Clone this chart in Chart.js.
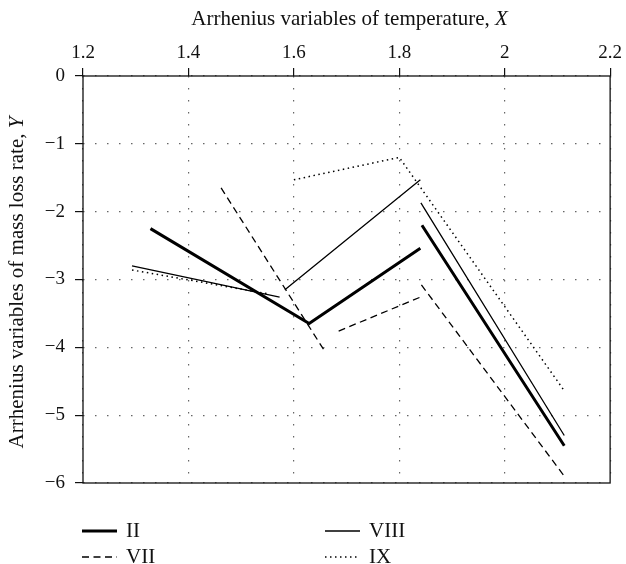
<!DOCTYPE html>
<html>
<head>
<meta charset="utf-8">
<script src="https://cdn.jsdelivr.net/npm/chart.js@4.4.0/dist/chart.umd.min.js"></script>
<style>
  body { margin: 0; background: #fff; }
</style>
</head>
<body>
<canvas id="grafico" width="626" height="564"></canvas>
<script>
// 1. Datos (null en Y = la línea se corta)
const ticksX = [1.2, 1.4, 1.6, 1.8, 2, 2.2];
const ticksY = [0, -1, -2, -3, -4, -5, -6];
const nombresSeries = ['II', 'VIII', 'VII', 'IX'];

const xII = [1.328, 1.629, 1.840, 1.841, 1.843, 2.113];
const yII = [-2.25, -3.65, -2.54, null, -2.20, -5.45];

const xVIII = [1.293, 1.573, 1.578, 1.583, 1.840, 1.840, 1.841, 2.113];
const yVIII = [-2.80, -3.26, null, -3.15, -1.53, null, -1.87, -5.30];

const xVII = [1.462, 1.658, 1.670, 1.685, 1.840, 1.841, 1.842, 2.116];
const yVII = [-1.65, -4.05, null, -3.76, -3.26, null, -3.08, -5.93];

const xIX = [1.293, 1.550, 1.575, 1.600, 1.800, 2.113];
const yIX = [-2.86, -3.21, null, -1.53, -1.20, -4.64];

const tituloX = 'Arrhenius variables of temperature, ';
const tituloY = 'Arrhenius variables of mass loss rate, ';

const fuente = '"Liberation Serif", "Times New Roman", serif';

// 2. Junta los arreglos x e y en puntos para Chart.js
function armarPuntos(xs, ys) {
    return xs.map((x, i) => ({ x: x, y: ys[i] }));
}

function serie(nombre, xs, ys, grosor, trazo) {
    return {
        label: nombre,
        data: armarPuntos(xs, ys),
        borderColor: '#000',
        borderWidth: grosor,
        borderDash: trazo,
        pointRadius: 0,
        fill: false,
        tension: 0,
        spanGaps: false
    };
}

// Texto normal + letra en cursiva (la variable)
function textoConVariable(ctx, texto, variable, x, y) {
    ctx.font = '21px ' + fuente;
    const a = ctx.measureText(texto).width;
    ctx.font = 'italic 21px ' + fuente;
    const b = ctx.measureText(variable).width;
    const inicio = x - (a + b) / 2;
    ctx.textAlign = 'left';
    ctx.textBaseline = 'middle';
    ctx.font = '21px ' + fuente;
    ctx.fillText(texto, inicio, y);
    ctx.font = 'italic 21px ' + fuente;
    ctx.fillText(variable, inicio + a, y);
}

// 3. Plugin: marco, títulos de ejes y leyenda en dos columnas
const extras = {
    id: 'extras',
    afterDraw(chart) {
        const ctx = chart.ctx;
        const area = chart.chartArea;
        ctx.save();

        // marco
        ctx.strokeStyle = '#111';
        ctx.lineWidth = 1.3;
        ctx.setLineDash([]);
        ctx.strokeRect(area.left, area.top, area.right - area.left, area.bottom - area.top);

        // títulos
        ctx.fillStyle = '#111';
        textoConVariable(ctx, tituloX, 'X', (area.left + area.right) / 2 + 3, 19);
        ctx.save();
        ctx.translate(17, (area.top + area.bottom) / 2 + 3);
        ctx.rotate(-Math.PI / 2);
        textoConVariable(ctx, tituloY, 'Y', 0, 0);
        ctx.restore();

        // leyenda
        const columnas = [82, 325];
        const filas = [531, 557];
        chart.data.datasets.forEach((ds, i) => {
            const x = columnas[i % 2];
            const y = filas[Math.floor(i / 2)];
            ctx.strokeStyle = '#000';
            ctx.lineWidth = ds.borderWidth;
            ctx.setLineDash(ds.borderDash);
            ctx.beginPath();
            ctx.moveTo(x, y);
            ctx.lineTo(x + 35, y);
            ctx.stroke();
            ctx.setLineDash([]);
            ctx.font = '21px ' + fuente;
            ctx.textAlign = 'left';
            ctx.textBaseline = 'middle';
            ctx.fillStyle = '#111';
            ctx.fillText(ds.label, x + 44, y);
        });
        ctx.restore();
    }
};

// 4. Armamos el gráfico
const ctx = document.getElementById('grafico').getContext('2d');
const grafico = new Chart(ctx, {
    type: 'line',
    data: {
        datasets: [
            serie(nombresSeries[0], xII, yII, 3, []),
            serie(nombresSeries[1], xVIII, yVIII, 1.3, []),
            serie(nombresSeries[2], xVII, yVII, 1.3, [7, 4.5]),
            serie(nombresSeries[3], xIX, yIX, 1.5, [1.5, 3.5])
        ]
    },
    options: {
        responsive: false,
        animation: false,
        layout: { padding: { left: 0, top: 0, right: 15, bottom: 81 } },
        plugins: {
            legend: { display: false },
            tooltip: { enabled: false }
        },
        scales: {
            x: {
                type: 'linear',
                position: 'top',
                min: 1.2,
                max: 2.2,
                afterBuildTicks: (eje) => { eje.ticks = ticksX.map(v => ({ value: v })); },
                afterFit: (eje) => { eje.height = 76; },
                ticks: {
                    padding: 4,
                    color: '#111',
                    font: { family: fuente, size: 19 },
                    callback: (v) => String(Math.round(v * 10) / 10)
                },
                grid: {
                    color: '#666',
                    lineWidth: 1.2,
                    tickLength: 8,
                    tickColor: '#111',
                    tickWidth: 1.2,
                    tickBorderDash: []
                },
                border: { display: false, dash: [1.5, 10.5] }
            },
            y: {
                type: 'linear',
                min: -6,
                max: 0,
                afterBuildTicks: (eje) => { eje.ticks = ticksY.map(v => ({ value: v })); },
                afterFit: (eje) => { eje.width = 83; },
                ticks: {
                    padding: 10,
                    color: '#111',
                    font: { family: fuente, size: 19 },
                    callback: (v) => v < 0 ? '\u2212' + Math.abs(v) : String(v)
                },
                grid: {
                    color: '#666',
                    lineWidth: 1.2,
                    tickLength: 8,
                    tickColor: '#111',
                    tickWidth: 1.2,
                    tickBorderDash: []
                },
                border: { display: false, dash: [1.5, 10.5] }
            }
        }
    },
    plugins: [extras]
});
</script>
</body>
</html>
